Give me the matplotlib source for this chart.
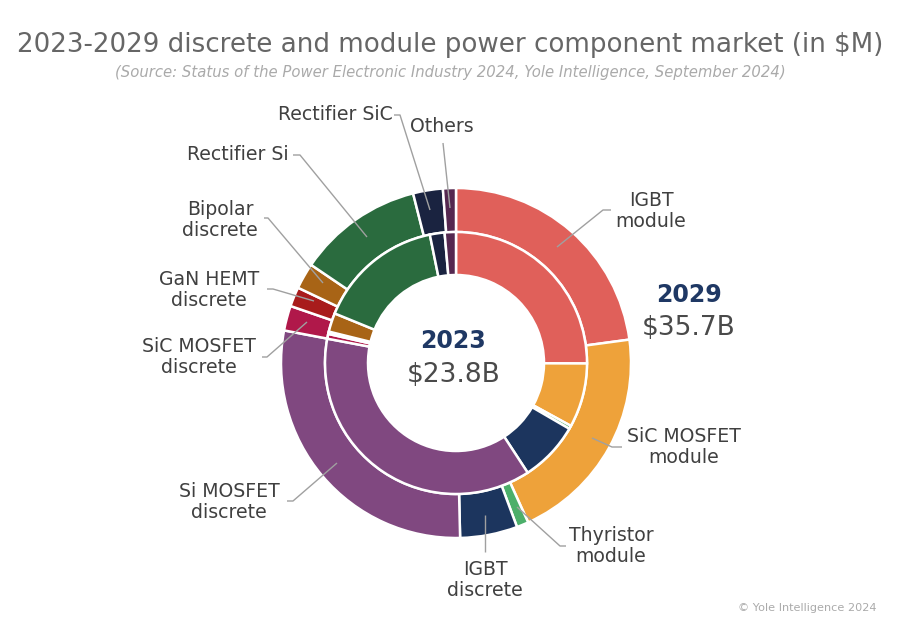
import matplotlib
matplotlib.use("Agg")
import matplotlib.pyplot as plt

# ---------------- data ----------------
categories = ["IGBT module", "SiC MOSFET module", "Thyristor module", "IGBT discrete",
              "Si MOSFET discrete", "SiC MOSFET discrete", "GaN HEMT discrete",
              "Bipolar discrete", "Rectifier Si", "Rectifier SiC", "Others"]
values_2023 = [5950, 1880, 95, 1760, 8830, 140, 70, 550, 3710, 430, 330]
values_2029 = [8175, 7283, 393, 1892, 10139, 821, 643, 857, 4141, 982, 428]
year_inner, total_inner = "2023", "$23.8B"
year_outer, total_outer = "2029", "$35.7B"
title = "2023-2029 discrete and module power component market (in $M)"
subtitle = "(Source: Status of the Power Electronic Industry 2024, Yole Intelligence, September 2024)"
credit = "\u00a9 Yole Intelligence 2024"

# ---------------- style ----------------
colors = ["#E0605A", "#EEA23A", "#4CAF6A", "#1C355E", "#804880", "#B0184A",
          "#A81C1C", "#A86416", "#2A6B3E", "#1A2340", "#552850"]
label_text = {
    "IGBT module": "IGBT\nmodule",
    "SiC MOSFET module": "SiC MOSFET\nmodule",
    "Thyristor module": "Thyristor\nmodule",
    "IGBT discrete": "IGBT\ndiscrete",
    "Si MOSFET discrete": "Si MOSFET\ndiscrete",
    "SiC MOSFET discrete": "SiC MOSFET\ndiscrete",
    "GaN HEMT discrete": "GaN HEMT\ndiscrete",
    "Bipolar discrete": "Bipolar\ndiscrete",
    "Rectifier Si": "Rectifier Si",
    "Rectifier SiC": "Rectifier SiC",
    "Others": "Others",
}
# label anchor (pixel coords) and leader polyline (pixel coords)
label_layout = {
    "IGBT module": (651, 211, [(557, 247), (603, 210), (611, 210)]),
    "SiC MOSFET module": (684, 447, [(592, 438), (612, 447), (622, 447)]),
    "Thyristor module": (611, 546, [(517, 507), (560, 546), (566, 546)]),
    "IGBT discrete": (485, 580, [(485, 515), (485, 552)]),
    "Si MOSFET discrete": (229, 502, [(337, 463), (293, 501), (287, 501)]),
    "SiC MOSFET discrete": (199, 357, [(307, 322), (267, 357), (262, 357)]),
    "GaN HEMT discrete": (209, 290, [(314, 301), (273, 289), (267, 289)]),
    "Bipolar discrete": (220, 220, [(323, 283), (268, 218), (264, 218)]),
    "Rectifier Si": (238, 155, [(367, 237), (300, 155), (293, 155)]),
    "Rectifier SiC": (335, 115, [(430, 210), (400, 115), (394, 115)]),
    "Others": (442, 127, [(450, 208), (443, 143)]),
}

plt.rcParams['font.family'] = ['DejaVu Sans']
W, H = 900, 630
fig = plt.figure(figsize=(9, 6.3), dpi=100)
ax = fig.add_axes([0, 0, 1, 1])


def Y(y):
    return H - y


cx, cy = 456, 363
ax.pie(values_2029, radius=175, center=(cx, Y(cy)), startangle=90, counterclock=False,
       colors=colors, wedgeprops=dict(width=44, edgecolor='white', linewidth=1.8))
ax.pie(values_2023, radius=131, center=(cx, Y(cy)), startangle=90, counterclock=False,
       colors=colors, wedgeprops=dict(width=43, edgecolor='white', linewidth=1.8))
ax.set_xlim(0, W)
ax.set_ylim(0, H)
ax.set_aspect('equal')
ax.axis('off')

lab_color = "#404040"
line_color = "#A0A0A0"
for cat in categories:
    x, y, pts = label_layout[cat]
    ax.plot([p[0] for p in pts], [Y(p[1]) for p in pts], color=line_color, lw=1.0,
            solid_capstyle='butt', zorder=5)
    ax.text(x, Y(y), label_text[cat], ha='center', va='center', multialignment='center',
            fontsize=13.6, color=lab_color, linespacing=1.17)

# centre / side totals
ax.text(453, Y(341), year_inner, ha='center', va='center', fontsize=17, fontweight='bold',
        color="#1F3864")
ax.text(454, Y(375), total_inner, ha='center', va='center', fontsize=19, color="#4A4A4A")
ax.text(689, Y(295), year_outer, ha='center', va='center', fontsize=17, fontweight='bold',
        color="#1F3864")
ax.text(689, Y(328), total_outer, ha='center', va='center', fontsize=19, color="#4A4A4A")

# titles
renderer = fig.canvas.get_renderer()


def fit(t, target_w):
    bb = t.get_window_extent(renderer)
    t.set_fontsize(t.get_fontsize() * target_w / bb.width)


t1 = ax.text(450, Y(45), title, ha='center', va='center', fontsize=18, color="#666666")
fit(t1, 865)
t2 = ax.text(450, Y(73), subtitle, ha='center', va='center', fontsize=9, color="#AAAAAA",
             style='italic')
fit(t2, 674)
t3 = ax.text(876, Y(608), credit, ha='right', va='center', fontsize=8, color="#AAAAAA")
fit(t3, 139)

fig.savefig("out.png", dpi=100, facecolor='white')
